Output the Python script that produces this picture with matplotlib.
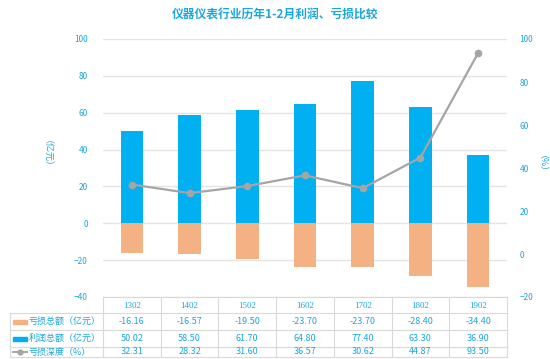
import matplotlib
matplotlib.use("Agg")
import matplotlib.pyplot as plt
from matplotlib.patches import Rectangle
from matplotlib.lines import Line2D

plt.rcParams['font.family'] = ['Noto Sans CJK SC', 'DejaVu Sans']

years = ['1302', '1402', '1502', '1602', '1702', '1802', '1902']
loss = [-16.16, -16.57, -19.50, -23.70, -23.70, -28.40, -34.40]
profit = [50.02, 58.50, 61.70, 64.80, 77.40, 63.30, 36.90]
depth = [32.31, 28.32, 31.60, 36.57, 30.62, 44.87, 93.50]
series_labels = ['亏损总额（亿元）', '利润总额（亿元）', '亏损深度（%）']
title = '仪器仪表行业历年1-2月利润、亏损比较'

c_blue = '#00B0F0'
c_orange = '#F4B183'
c_gray = '#A5A5A5'
c_text = '#1AA7DC'
c_grid = '#E4E4E4'

W, H = 550, 359
fig = plt.figure(figsize=(W / 100, H / 100), dpi=100)
L, R, T, B = 103, 507, 39, 297
ax = fig.add_axes([L / W, 1 - B / H, (R - L) / W, (B - T) / H])
ax2 = ax.twinx()

x = list(range(len(years)))
ax.bar(x, profit, width=0.39, color=c_blue, zorder=2)
ax.bar(x, loss, width=0.39, color=c_orange, zorder=2)
ax.set_xlim(-0.5, len(years) - 0.5)
ax.set_ylim(-40, 100)
ax.set_yticks(range(-40, 101, 20))
ax.grid(axis='y', color=c_grid, linewidth=1)
ax.set_axisbelow(True)
ax.set_xticks([])

ax2.plot(x, depth, color=c_gray, linewidth=1.6, marker='o', markersize=4.5, zorder=3)
ax2.set_ylim(-20, 100)
ax2.set_yticks(range(-20, 101, 20))

for a in (ax, ax2):
    for s in a.spines.values():
        s.set_visible(False)
    a.tick_params(axis='y', length=0, labelsize=6, labelcolor=c_text, pad=9)
ax.tick_params(axis='y', pad=11)

fig.text(275 / W, 1 - 15 / H, title, ha='center', va='center', fontsize=8.5,
         color=c_text, fontweight='bold')
fig.text(42 / W, 1 - 158 / H, '（亿元）', rotation=270, ha='center', va='center',
         fontsize=6.5, color=c_text)
fig.text(537 / W, 1 - 168 / H, '（%）', rotation=270, ha='center', va='center',
         fontsize=6.5, color=c_text)

# data table below the axes
def fx(px):
    return px / W

def fy(py):
    return 1 - py / H

line_c = '#DADADA'
row_y = [297, 313, 330, 347, 357]
col_w = (R - L) / len(years)
tl = 10
fig.add_artist(Line2D([fx(L), fx(R)], [fy(row_y[0]), fy(row_y[0])], color=line_c, lw=0.8))
for yy in row_y[1:]:
    fig.add_artist(Line2D([fx(tl), fx(R)], [fy(yy), fy(yy)], color=line_c, lw=0.8))
for i in range(len(years) + 1):
    xx = L + i * col_w
    fig.add_artist(Line2D([fx(xx), fx(xx)], [fy(row_y[0]), fy(row_y[-1])], color=line_c, lw=0.8))
fig.add_artist(Line2D([fx(tl), fx(tl)], [fy(row_y[1]), fy(row_y[-1])], color=line_c, lw=0.8))

rows = [loss, profit, depth]
for i, yr in enumerate(years):
    cx = L + (i + 0.5) * col_w
    fig.text(fx(cx), fy((row_y[0] + row_y[1]) / 2 + 1), yr, ha='center', va='center',
             fontsize=6.5, color=c_text, family=['Liberation Serif'])
    for r, vals in enumerate(rows):
        cy = (row_y[r + 1] + row_y[r + 2]) / 2
        fig.text(fx(cx), fy(cy), f'{vals[i]:.2f}', ha='center', va='center',
                 fontsize=6.5, color=c_text)

for r, lab in enumerate(series_labels):
    cy = (row_y[r + 1] + row_y[r + 2]) / 2
    if r == 0:
        fig.add_artist(Rectangle((fx(13), fy(cy + 2)), 14 / W, 4 / H, color=c_orange))
    elif r == 1:
        fig.add_artist(Rectangle((fx(13), fy(cy + 2)), 14 / W, 4 / H, color=c_blue))
    else:
        fig.add_artist(Line2D([fx(13), fx(27)], [fy(cy), fy(cy)], color=c_gray, lw=1.4))
        fig.add_artist(Line2D([fx(20)], [fy(cy)], color=c_gray, marker='o', markersize=3.5))
    fig.text(fx(29), fy(cy), lab, ha='left', va='center', fontsize=6.5, color=c_text)

fig.savefig('out.png', dpi=100)
